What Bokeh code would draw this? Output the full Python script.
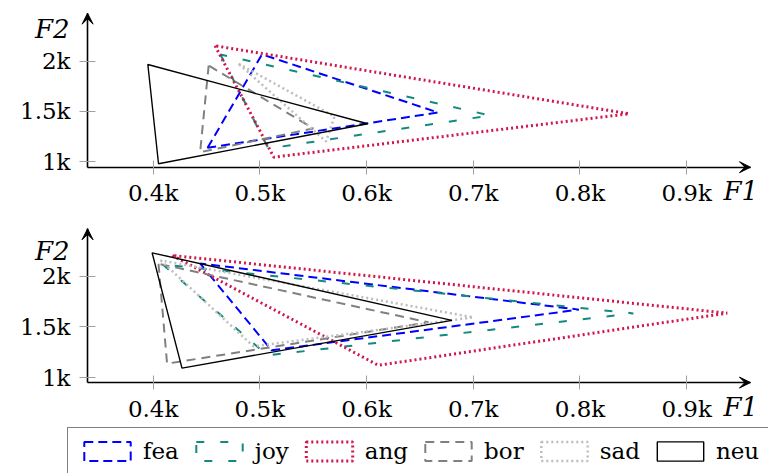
from bokeh.plotting import figure
from bokeh.models import FixedTicker, Arrow, VeeHead, Label, Legend, LegendItem, Range1d
from bokeh.layouts import column
from bokeh.embed import file_html
from bokeh.resources import INLINE

# ---------------- data ----------------
emotions = ["fea", "joy", "ang", "bor", "sad", "neu"]
x_ticks = [400, 500, 600, 700, 800, 900]
x_tick_labels = ["0.4k", "0.5k", "0.6k", "0.7k", "0.8k", "0.9k"]
y_ticks = [1000, 1500, 2000]
y_tick_labels = ["1k", "1.5k", "2k"]

# top panel: triangle vertices (F1, F2)
top_fea_f1 = [451, 502, 667]
top_fea_f2 = [1139, 2067, 1490]
top_joy_f1 = [463, 508, 716]
top_joy_f2 = [2067, 1132, 1460]
top_ang_f1 = [458, 513, 846]
top_ang_f2 = [2153, 1046, 1477]
top_bor_f1 = [452, 444, 550]
top_bor_f2 = [1957, 1095, 1331]
top_sad_f1 = [480, 570, 562]
top_sad_f2 = [1974, 1450, 1202]
top_neu_f1 = [395, 405, 601]
top_neu_f2 = [1967, 980, 1378]

# bottom panel
bot_fea_f1 = [444, 511, 799]
bot_fea_f2 = [2125, 1269, 1670]
bot_joy_f1 = [409, 507, 850]
bot_joy_f2 = [2115, 1219, 1633]
bot_ang_f1 = [418, 611, 938]
bot_ang_f2 = [2204, 1121, 1636]
bot_bor_f1 = [405, 413, 658]
bot_bor_f2 = [2122, 1138, 1545]
bot_sad_f1 = [407, 494, 700]
bot_sad_f2 = [2155, 1308, 1594]
bot_neu_f1 = [399, 427, 680]
bot_neu_f2 = [2230, 1094, 1564]

# axis extents (where the drawn axes start / end)
ax_x0, ax_x1 = 338.5, 959.8
top_y0, top_y1 = 946, 2477
bot_y0, bot_y1 = 951, 2467

styles = {
    "fea": dict(line_color="#0000ff", line_dash="9 5", line_width=2),
    "joy": dict(line_color="#138a80", line_dash="8 16", line_width=2),
    "ang": dict(line_color="#d0164a", line_dash="2 3", line_width=3),
    "bor": dict(line_color="#808080", line_dash="9 6", line_width=2),
    "sad": dict(line_color="#bdbdbd", line_dash="2 3", line_width=2.5),
    "neu": dict(line_color="#000000", line_width=1.4),
}

FONT = "DejaVu Serif"
W = 768


def make_fig(height, x_range, y_range, y0, y1):
    p = figure(width=W, height=height, x_range=Range1d(*x_range), y_range=Range1d(*y_range),
               output_backend="svg", toolbar_location=None,
               min_border=0, outline_line_color=None)
    p.grid.visible = False
    p.xaxis.fixed_location = y0
    p.yaxis.fixed_location = ax_x0
    p.xaxis.bounds = (ax_x0, ax_x1)
    p.yaxis.bounds = (y0, y1)
    p.xaxis.ticker = FixedTicker(ticks=x_ticks)
    p.yaxis.ticker = FixedTicker(ticks=y_ticks)
    p.xaxis.major_label_overrides = dict(zip(x_ticks, x_tick_labels))
    p.yaxis.major_label_overrides = dict(zip(y_ticks, y_tick_labels))
    for ax in (p.xaxis, p.yaxis):
        ax.axis_line_color = "black"
        ax.axis_line_width = 1.6
        ax.major_tick_line_color = "#a0a0a0"
        ax.major_tick_line_width = 1
        ax.minor_tick_line_color = None
        ax.major_label_text_font = FONT
        ax.major_label_text_font_size = "23px"
        ax.major_label_text_color = "black"
    p.xaxis.major_tick_in = 7
    p.xaxis.major_tick_out = 7
    p.yaxis.major_tick_in = 8
    p.yaxis.major_tick_out = 8
    p.xaxis.major_label_standoff = 6
    p.yaxis.major_label_standoff = 9
    head = dict(size=11, line_color="black", fill_color="black", line_width=1)
    p.add_layout(Arrow(end=VeeHead(**head), x_start=ax_x0, y_start=y0, x_end=ax_x1, y_end=y0,
                       line_alpha=0))
    p.add_layout(Arrow(end=VeeHead(**head), x_start=ax_x0, y_start=y0, x_end=ax_x0, y_end=y1,
                       line_alpha=0))
    return p


def draw(p, data):
    rs = []
    for name in emotions:
        f1, f2 = data[name]
        rs.append(p.patch(f1, f2, fill_color=None, **styles[name]))
    return rs


xr = (256.9, 976.7)
p1 = make_fig(217, xr, (446, 2603), top_y0, top_y1)
p2 = make_fig(256, xr, (55, 2578), bot_y0, bot_y1)

draw(p1, {"fea": (top_fea_f1, top_fea_f2), "joy": (top_joy_f1, top_joy_f2),
          "ang": (top_ang_f1, top_ang_f2), "bor": (top_bor_f1, top_bor_f2),
          "sad": (top_sad_f1, top_sad_f2), "neu": (top_neu_f1, top_neu_f2)})
rends = draw(p2, {"fea": (bot_fea_f1, bot_fea_f2), "joy": (bot_joy_f1, bot_joy_f2),
                  "ang": (bot_ang_f1, bot_ang_f2), "bor": (bot_bor_f1, bot_bor_f2),
                  "sad": (bot_sad_f1, bot_sad_f2), "neu": (bot_neu_f1, bot_neu_f2)})

# axis name labels
for p, y2, y1 in ((p1, 2464, 854), (p2, 2400, 855)):
    p.add_layout(Label(x=321.6, y=y2, text="F2", text_align="right", text_baseline="top",
                       text_color="black", text_font=FONT, text_font_style="italic",
                       text_font_size="26px"))
    p.add_layout(Label(x=934.5, y=y1, text="F1", text_align="left", text_baseline="top",
                       text_color="black", text_font=FONT, text_font_style="italic",
                       text_font_size="26px"))

legend = Legend(items=[LegendItem(label=n, renderers=[r]) for n, r in zip(emotions, rends)],
                orientation="horizontal", location=(67, -2),
                glyph_width=58, glyph_height=24, label_standoff=7, spacing=11,
                padding=10, margin=0,
                label_text_font=FONT, label_text_font_size="23px", label_text_color="black",
                border_line_color="black", border_line_width=1.5)
p2.add_layout(legend)

layout = column(p1, p2, spacing=0)
open("out.html", "w").write(file_html(layout, INLINE))
